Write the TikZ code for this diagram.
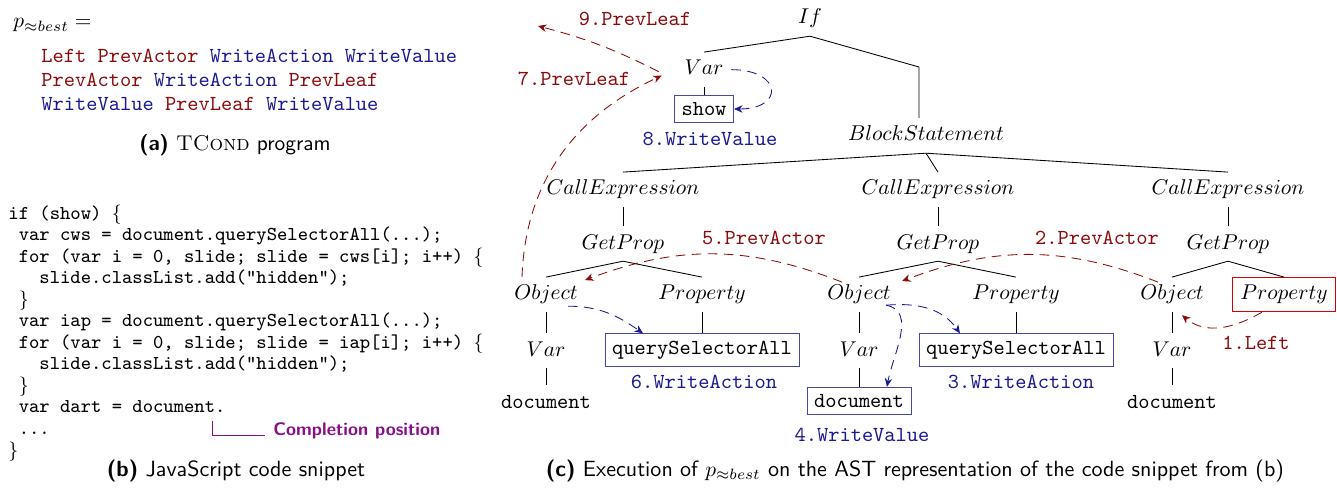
\documentclass[tikz,border=0pt]{standalone}
\usetikzlibrary{arrows.meta,calc}
\definecolor{actred}{RGB}{140,10,10}
\definecolor{actblue}{RGB}{25,25,145}
\definecolor{cpurple}{RGB}{135,15,135}
\newcommand{\cdind}{\hphantom{x}}

\begin{document}
\begin{tikzpicture}
[
 x=0.4673pt, y=0.4673pt,
 TXT/.style={inner sep=0pt, anchor=base west},
 TREE/.style={inner sep=3.5pt, text height=7pt, text depth=2pt, anchor=base},
 WBOX/.style={draw=actblue!80, thin, inner sep=3.33pt, font=\ttfamily},
 LBOX/.style={TREE, draw=red!85!black, thin},
 REDLBL/.style={text=actred, font=\ttfamily},
 BLUELBL/.style={text=actblue, font=\ttfamily},
 REDARR/.style={draw=actred, dash pattern=on 4.5pt off 3pt, -{Stealth[length=4pt,width=3.5pt]}},
 BLUEARR/.style={draw=actblue, dash pattern=on 4.5pt off 3pt, -{Stealth[length=4pt,width=3.5pt]}},
 CAPT/.style={font=\fontsize{10.3}{12}\selectfont\sffamily, anchor=base},
 ]
\useasboundingbox (0,0) rectangle (1337,-488);
%
% (a) program
\node [TXT] (pb) at (13,-28) {$p_{\approx best} =$};
\node [TXT, font=\ttfamily] (l1) at (41,-63) {\textcolor{actred}{Left} \textcolor{actred}{PrevActor} \textcolor{actblue}{WriteAction} \textcolor{actblue}{WriteValue}};
\node [TXT, font=\ttfamily] (l2) at (41,-87) {\textcolor{actred}{PrevActor} \textcolor{actblue}{WriteAction} \textcolor{actred}{PrevLeaf}};
\node [TXT, font=\ttfamily] (l3) at (41,-111) {\textcolor{actblue}{WriteValue} \textcolor{actred}{PrevLeaf} \textcolor{actblue}{WriteValue}};
\node [CAPT, font=\sffamily] (capa) at (235,-151) {\textbf{(a)} \textrm{\textsc{TCond}} program};
%
% (b) code
\node [TXT, align=left, font=\fontsize{9.2}{10.05}\selectfont\ttfamily] (code) at (8,-456)
  {if (show) $\{$\\
   \cdind var cws = document.querySelectorAll(...);\\
   \cdind for (var i = 0, slide; slide = cws[i]; i++) $\{$\\
   \cdind\cdind\cdind slide.classList.add("hidden");\\
   \cdind $\}$\\
   \cdind var iap = document.querySelectorAll(...);\\
   \cdind for (var i = 0, slide; slide = iap[i]; i++) $\{$\\
   \cdind\cdind\cdind slide.classList.add("hidden");\\
   \cdind $\}$\\
   \cdind var dart = document.\\
   \cdind ...\\
   $\}$};
\coordinate (cpos) at (212,-421);
\node [TXT, text=cpurple, font=\fontsize{8.5}{10}\selectfont\sffamily\bfseries] (cptxt) at (273,-435) {Completion position};
\draw [cpurple, thin] (cpos) |- ($(cptxt.base west)+(-8,0)$);
\node [CAPT] (capb) at (236,-476) {\textbf{(b)} JavaScript code snippet};
%
% (c) AST
\node [TREE] (ifn)  at ( 810, -24) {$If$};
\node [TREE] (var0) at ( 704, -75) {$Var$};
\node [WBOX] (sh)   at ( 704,-109) {show};
\node [TREE] (bs)   at ( 926,-141) {$BlockStatement$};
%
\node [TREE] (cx1) at ( 623,-195) {$CallExpression$};
\node [TREE] (cx2) at ( 938,-195) {$CallExpression$};
\node [TREE] (cx3) at (1228,-195) {$CallExpression$};
\node [TREE] (gp1) at ( 623,-249) {$GetProp$};
\node [TREE] (gp2) at ( 938,-249) {$GetProp$};
\node [TREE] (gp3) at (1228,-249) {$GetProp$};
%
\node [TREE] (ob1) at ( 546,-300) {$Object$};
\node [TREE] (pr1) at ( 702,-300) {$Property$};
\node [TREE] (ob2) at ( 859,-300) {$Object$};
\node [TREE] (pr2) at (1016,-300) {$Property$};
\node [TREE] (ob3) at (1172,-300) {$Object$};
\node [LBOX] (pr3) at (1284,-300) {$Property$};
%
\node [TREE] (va1) at ( 546,-356) {$Var$};
\node [TREE] (va2) at ( 859,-356) {$Var$};
\node [TREE] (va3) at (1172,-356) {$Var$};
\node [WBOX] (qs1) at ( 702,-350) {querySelectorAll};
\node [WBOX] (qs2) at (1016,-350) {querySelectorAll};
\node [TREE] (dc1) at ( 546,-408) {\texttt{document}};
\node [WBOX] (dc2) at ( 859,-401) {document};
\node [TREE] (dc3) at (1172,-408) {\texttt{document}};
%
\coordinate (elb) at (919,-67);
\draw (ifn.south) -- (elb) -- (elb |- bs.north);
\foreach \a/\b in {ifn/var0, var0/sh, bs/cx1, bs/cx2, bs/cx3, cx1/gp1, cx2/gp2, cx3/gp3,
                   gp1/ob1, gp1/pr1, gp2/ob2, gp2/pr2, gp3/ob3, gp3/pr3,
                   ob1/va1, ob2/va2, ob3/va3, va1/dc1, va2/dc2, va3/dc3, pr1/qs1, pr2/qs2}
  \draw (\a.south) -- (\b.north);
%
\node [REDLBL]  (lb1) at (1256,-343) {1.Left};
\node [REDLBL]  (lb2) at (1097,-238) {2.PrevActor};
\node [BLUELBL] (lb3) at (1021,-382) {3.WriteAction};
\node [BLUELBL] (lb4) at ( 862,-435) {4.WriteValue};
\node [REDLBL]  (lb5) at ( 764,-238) {5.PrevActor};
\node [BLUELBL] (lb6) at ( 704,-382) {6.WriteAction};
\node [REDLBL]  (lb7) at ( 574, -79) {7.PrevLeaf};
\node [BLUELBL] (lb8) at ( 710,-139) {8.WriteValue};
\node [REDLBL]  (lb9) at ( 635, -19) {9.PrevLeaf};
%
\coordinate (ob2se) at ($(ob2.south)+(27,7)$);
\coordinate (p9) at (538,-26);
\draw [REDARR]  ($(pr3.south)+(-22,0)$) to [out=-150, in=-40] ($(ob3.south)+(10,-3)$);
\draw [REDARR]  ($(ob3.north)+(-14,-5)$) to [bend right=21] ($(ob2.north)+(43,-4)$);
\draw [BLUEARR] (ob2se) to [out=5, in=125] ($(qs2.north)+(-56,0)$);
\draw [BLUEARR] (ob2se) to [out=-10, in=80] ($(dc2.north)+(28,0)$);
\draw [REDARR]  ($(ob2.north)+(-17,-5)$) to [bend right=21] ($(ob1.north)+(39,-3)$);
\draw [BLUEARR] ($(ob1.south)+(22,6)$) to [out=0, in=145] ($(qs1.north)+(-59,0)$);
\draw [REDARR]  ($(ob1.north)+(-24,0)$) to [out=88, in=205] ($(var0.west)+(-15,-6)$);
\draw [BLUEARR] (var0.east) to [out=0, in=0, looseness=3.3] (sh.east);
\draw [REDARR]  ($(var0.west)+(-18,-2)$) to [bend right=6] (p9);
%
\node [CAPT] (capc) at (915,-476) {\textbf{(c)} Execution of $p_{\approx best}$ on the AST representation of the code snippet from (b)};
\end{tikzpicture}
\end{document}
